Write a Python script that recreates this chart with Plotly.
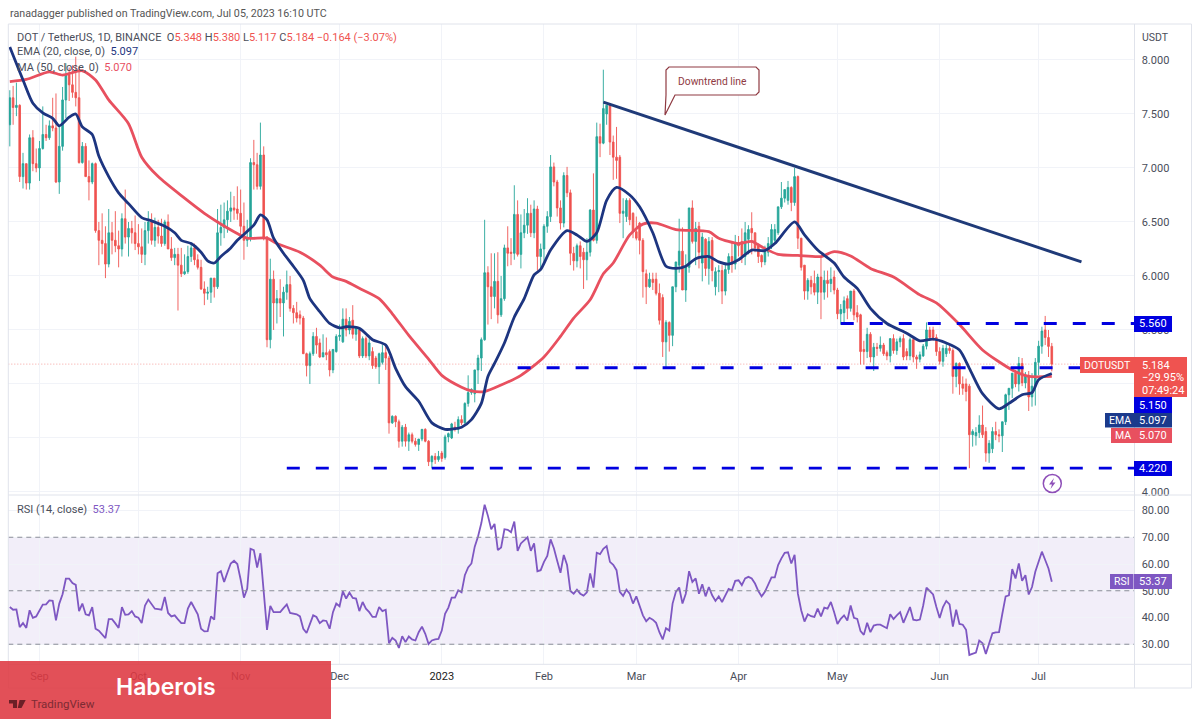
import pandas as pd
import plotly.graph_objects as go
from plotly.subplots import make_subplots

first_day = "2022-08-23"
axis_start = "2022-08-22 13:00"
axis_end = "2023-07-30 02:00"

opens = [
    7.40, 7.65, 7.56, 7.58, 6.92, 7.04, 6.86, 7.28, 7.04, 7.00,
    7.18, 7.31, 7.28, 7.39, 7.37, 6.87, 7.20, 7.63, 7.86, 7.77,
    7.70, 7.65, 7.05, 7.20, 6.92, 6.87, 7.04, 6.42, 6.33, 6.30,
    6.11, 6.40, 6.33, 6.28, 6.25, 6.53, 6.36, 6.44, 6.40, 6.30,
    6.27, 6.20, 6.42, 6.50, 6.33, 6.45, 6.37, 6.30, 6.50, 6.25,
    6.17, 6.20, 6.10, 6.02, 6.04, 6.18, 6.26, 6.15, 6.08, 5.88,
    5.84, 5.85, 5.98, 5.90, 6.40, 6.45, 6.52, 6.60, 6.63, 6.62,
    6.58, 6.46, 6.33, 6.35, 7.05, 7.03, 6.83, 7.12, 6.36, 5.41,
    5.97, 5.75, 5.79, 5.75, 5.85, 5.92, 5.70, 5.66, 5.64, 5.61,
    5.28, 5.17, 5.28, 5.44, 5.38, 5.25, 5.29, 5.30, 5.13, 5.30,
    5.44, 5.39, 5.60, 5.50, 5.59, 5.46, 5.50, 5.26, 5.42, 5.26,
    5.30, 5.24, 5.16, 5.20, 5.29, 5.24, 4.64, 4.70, 4.65, 4.47,
    4.60, 4.47, 4.53, 4.47, 4.44, 4.49, 4.58, 4.47, 4.28, 4.33,
    4.30, 4.36, 4.32, 4.51, 4.50, 4.60, 4.58, 4.67, 4.64, 4.82,
    4.92, 4.91, 5.13, 5.24, 5.41, 6.03, 5.90, 5.81, 5.95, 5.64,
    5.79, 6.26, 6.22, 6.21, 6.57, 6.20, 6.40, 6.47, 6.58, 6.40,
    6.62, 6.18, 6.25, 6.46, 6.55, 7.01, 6.87, 6.63, 6.49, 6.93,
    6.77, 6.21, 6.14, 6.28, 6.22, 6.15, 6.22, 6.61, 6.33, 7.29,
    7.23, 7.50, 7.58, 7.24, 7.10, 7.10, 6.58, 6.55, 6.70, 6.58,
    6.41, 6.49, 6.33, 6.02, 5.90, 5.97, 5.97, 5.84, 5.80, 5.39,
    5.57, 5.45, 5.90, 6.10, 6.23, 5.87, 6.08, 6.63, 6.32, 6.46,
    6.12, 6.34, 6.07, 6.33, 5.90, 6.04, 6.05, 5.86, 6.06, 6.18,
    6.11, 6.30, 6.32, 6.18, 6.34, 6.44, 6.40, 6.28, 6.19, 6.13,
    6.22, 6.28, 6.33, 6.40, 6.64, 6.72, 6.70, 6.82, 6.68, 6.92,
    6.35, 6.10, 5.86, 5.96, 5.93, 5.85, 5.99, 5.85, 5.96, 5.93,
    5.99, 5.87, 5.65, 5.66, 5.79, 5.70, 5.86, 5.66, 5.64, 5.32,
    5.30, 5.46, 5.25, 5.34, 5.33, 5.36, 5.29, 5.26, 5.42, 5.31,
    5.39, 5.42, 5.30, 5.26, 5.41, 5.25, 5.23, 5.26, 5.35, 5.50,
    5.50, 5.43, 5.30, 5.21, 5.28, 5.33, 5.31, 5.07, 5.19, 5.00,
    5.00, 4.98, 4.53, 4.52, 4.55, 4.62, 4.56, 4.36, 4.40, 4.56,
    4.53, 4.52, 4.65, 4.90, 4.96, 5.10, 5.00, 5.19, 5.01, 5.08,
    4.88, 4.98, 5.20, 5.35, 5.50, 5.43, 5.348,
]
highs = [
    7.72, 7.76, 7.79, 7.59, 7.14, 7.04, 7.31, 7.35, 7.18, 7.25,
    7.57, 7.40, 7.44, 7.65, 7.69, 7.40, 7.75, 7.97, 7.93, 7.95,
    8.03, 7.94, 7.24, 7.23, 7.07, 7.05, 7.05, 6.50, 6.58, 6.46,
    6.62, 6.50, 6.60, 6.42, 6.58, 6.80, 6.50, 6.51, 6.56, 6.48,
    6.44, 6.50, 6.60, 6.58, 6.54, 6.52, 6.53, 6.52, 6.57, 6.36,
    6.26, 6.26, 6.26, 6.20, 6.28, 6.30, 6.30, 6.20, 6.15, 5.95,
    5.90, 5.98, 5.98, 6.62, 6.66, 6.68, 6.70, 6.78, 6.74, 6.83,
    6.80, 6.68, 6.52, 7.09, 7.26, 7.14, 7.42, 7.20, 6.37, 6.16,
    6.05, 5.87, 5.97, 5.90, 6.05, 6.00, 5.73, 5.76, 5.68, 5.63,
    5.29, 5.30, 5.48, 5.52, 5.42, 5.46, 5.43, 5.32, 5.32, 5.46,
    5.55, 5.70, 5.70, 5.62, 5.73, 5.53, 5.52, 5.44, 5.44, 5.42,
    5.34, 5.26, 5.29, 5.36, 5.35, 5.26, 4.71, 4.71, 4.67, 4.62,
    4.63, 4.55, 4.55, 4.50, 4.49, 4.58, 4.59, 4.48, 4.34, 4.36,
    4.38, 4.38, 4.53, 4.55, 4.64, 4.65, 4.70, 4.71, 4.83, 5.08,
    4.96, 5.13, 5.27, 5.43, 6.52, 6.09, 6.21, 6.21, 6.22, 6.00,
    6.29, 6.46, 6.35, 6.84, 6.70, 6.57, 6.62, 6.72, 6.66, 6.70,
    6.65, 6.30, 6.48, 6.60, 7.12, 7.05, 6.89, 6.70, 6.96, 7.01,
    6.80, 6.27, 6.30, 6.32, 6.26, 6.35, 6.62, 6.95, 7.42, 7.41,
    7.91, 7.58, 7.59, 7.30, 7.38, 7.12, 6.72, 6.72, 6.72, 6.59,
    6.55, 6.50, 6.35, 6.06, 6.03, 6.03, 6.03, 5.93, 5.83, 5.59,
    5.58, 5.90, 6.13, 6.53, 6.45, 6.20, 6.63, 6.70, 6.50, 6.50,
    6.40, 6.35, 6.36, 6.36, 6.08, 6.10, 6.10, 6.12, 6.21, 6.32,
    6.38, 6.37, 6.44, 6.50, 6.47, 6.59, 6.40, 6.30, 6.20, 6.28,
    6.36, 6.48, 6.48, 6.64, 6.87, 6.80, 6.88, 6.83, 7.00, 6.93,
    6.35, 6.10, 5.98, 6.00, 6.05, 6.02, 6.18, 6.05, 6.05, 6.08,
    6.05, 5.89, 5.74, 5.81, 5.82, 5.86, 5.88, 5.73, 5.65, 5.40,
    5.52, 5.48, 5.38, 5.38, 5.44, 5.38, 5.31, 5.42, 5.46, 5.42,
    5.44, 5.46, 5.33, 5.43, 5.43, 5.27, 5.30, 5.37, 5.57, 5.53,
    5.53, 5.46, 5.34, 5.36, 5.37, 5.36, 5.33, 5.20, 5.20, 5.07,
    5.05, 5.00, 4.58, 4.60, 4.71, 4.80, 4.60, 4.48, 4.60, 4.65,
    4.58, 4.65, 4.91, 4.96, 5.10, 5.13, 5.25, 5.24, 5.11, 5.12,
    5.10, 5.24, 5.40, 5.53, 5.63, 5.50, 5.380,
]
lows = [
    7.20, 7.40, 7.48, 6.87, 6.81, 6.80, 6.80, 6.97, 6.96, 6.88,
    7.17, 7.25, 7.26, 7.34, 6.86, 6.76, 7.16, 7.46, 7.62, 7.65,
    7.57, 7.04, 7.04, 6.92, 6.70, 6.85, 6.40, 6.10, 6.20, 5.98,
    6.08, 6.20, 6.22, 6.08, 6.18, 6.30, 6.18, 6.30, 6.24, 6.20,
    6.12, 6.10, 6.30, 6.29, 6.27, 6.30, 6.27, 6.28, 6.25, 6.14,
    6.10, 5.68, 5.99, 6.01, 6.02, 6.13, 6.10, 6.06, 5.87, 5.73,
    5.78, 5.75, 5.80, 5.88, 6.28, 6.35, 6.40, 6.50, 6.52, 6.52,
    6.38, 6.15, 6.27, 6.32, 6.80, 6.80, 6.80, 6.33, 5.34, 5.33,
    5.50, 5.56, 5.62, 5.44, 5.78, 5.67, 5.56, 5.57, 5.55, 5.28,
    5.07, 5.00, 5.26, 5.28, 5.24, 5.25, 5.22, 5.07, 5.10, 5.29,
    5.40, 5.38, 5.44, 5.46, 5.42, 5.40, 5.24, 5.24, 5.24, 5.22,
    5.14, 5.14, 5.00, 5.18, 5.13, 4.54, 4.63, 4.60, 4.41, 4.42,
    4.42, 4.38, 4.45, 4.42, 4.38, 4.47, 4.46, 4.24, 4.22, 4.26,
    4.28, 4.28, 4.30, 4.46, 4.49, 4.56, 4.54, 4.62, 4.63, 4.79,
    4.90, 4.83, 5.00, 5.12, 5.40, 5.55, 5.60, 5.70, 5.56, 5.62,
    5.77, 6.09, 6.10, 6.15, 6.18, 6.07, 6.35, 6.39, 6.36, 6.35,
    6.05, 6.05, 6.12, 6.40, 6.50, 6.83, 6.55, 6.43, 6.45, 6.73,
    6.10, 6.05, 6.08, 6.07, 5.88, 5.96, 6.18, 6.32, 6.30, 7.10,
    7.22, 7.40, 7.12, 6.89, 6.90, 6.49, 6.35, 6.50, 6.47, 6.35,
    6.33, 6.20, 5.80, 5.74, 5.89, 5.87, 5.82, 5.55, 5.25, 5.15,
    5.30, 5.35, 5.85, 6.03, 5.87, 5.76, 6.03, 6.30, 6.10, 6.07,
    5.95, 6.00, 5.92, 5.95, 5.82, 5.85, 5.74, 5.82, 6.02, 6.03,
    6.06, 6.18, 6.12, 6.10, 6.20, 6.20, 6.22, 6.12, 6.08, 6.10,
    6.18, 6.25, 6.31, 6.38, 6.62, 6.68, 6.66, 6.60, 6.65, 6.25,
    6.05, 5.78, 5.78, 5.83, 5.82, 5.74, 5.60, 5.78, 5.80, 5.85,
    5.83, 5.60, 5.55, 5.56, 5.60, 5.67, 5.59, 5.57, 5.18, 5.18,
    5.24, 5.20, 5.12, 5.26, 5.30, 5.26, 5.22, 5.20, 5.28, 5.27,
    5.34, 5.22, 5.22, 5.22, 5.20, 5.14, 5.20, 5.25, 5.32, 5.40,
    5.40, 5.26, 5.18, 5.16, 5.25, 5.28, 4.91, 4.97, 4.90, 4.90,
    4.84, 4.22, 4.42, 4.43, 4.50, 4.50, 4.28, 4.27, 4.36, 4.48,
    4.46, 4.37, 4.62, 4.76, 4.87, 4.97, 4.93, 4.98, 4.96, 4.75,
    4.79, 4.80, 5.08, 5.28, 5.36, 5.25, 5.117,
]
closes = [
    7.65, 7.56, 7.58, 6.92, 7.04, 6.86, 7.28, 7.04, 7.00, 7.18,
    7.31, 7.28, 7.39, 7.37, 6.87, 7.20, 7.63, 7.86, 7.77, 7.70,
    7.65, 7.05, 7.20, 6.92, 6.87, 7.04, 6.42, 6.33, 6.30, 6.11,
    6.40, 6.33, 6.28, 6.25, 6.53, 6.36, 6.44, 6.40, 6.30, 6.27,
    6.20, 6.42, 6.50, 6.33, 6.45, 6.37, 6.30, 6.50, 6.25, 6.17,
    6.20, 6.10, 6.02, 6.04, 6.18, 6.26, 6.15, 6.08, 5.88, 5.84,
    5.85, 5.98, 5.90, 6.40, 6.45, 6.52, 6.60, 6.63, 6.61, 6.58,
    6.46, 6.33, 6.35, 7.05, 7.03, 6.83, 7.12, 6.36, 5.41, 5.97,
    5.75, 5.79, 5.75, 5.85, 5.92, 5.70, 5.66, 5.61, 5.61, 5.28,
    5.17, 5.28, 5.44, 5.36, 5.25, 5.29, 5.27, 5.13, 5.32, 5.44,
    5.45, 5.60, 5.50, 5.58, 5.46, 5.52, 5.26, 5.42, 5.26, 5.38,
    5.17, 5.16, 5.28, 5.29, 5.24, 4.64, 4.70, 4.65, 4.47, 4.60,
    4.47, 4.53, 4.47, 4.44, 4.49, 4.58, 4.47, 4.28, 4.33, 4.30,
    4.33, 4.31, 4.51, 4.54, 4.63, 4.58, 4.67, 4.64, 4.82, 4.92,
    4.95, 5.13, 5.24, 5.41, 6.03, 5.90, 5.81, 5.95, 5.64, 5.79,
    6.26, 6.21, 6.21, 6.57, 6.20, 6.40, 6.47, 6.58, 6.40, 6.62,
    6.18, 6.25, 6.46, 6.55, 7.01, 6.87, 6.63, 6.49, 6.93, 6.77,
    6.21, 6.14, 6.28, 6.18, 6.15, 6.22, 6.61, 6.33, 7.29, 7.23,
    7.55, 7.58, 7.24, 7.10, 7.07, 6.58, 6.60, 6.70, 6.52, 6.41,
    6.35, 6.33, 6.04, 5.90, 5.97, 5.94, 5.84, 5.59, 5.39, 5.57,
    5.45, 5.90, 6.13, 6.23, 5.87, 6.08, 6.63, 6.32, 6.44, 6.22,
    6.36, 6.07, 6.32, 6.05, 6.04, 6.05, 5.86, 6.06, 6.18, 6.11,
    6.30, 6.28, 6.18, 6.40, 6.43, 6.40, 6.26, 6.18, 6.13, 6.22,
    6.30, 6.43, 6.43, 6.64, 6.72, 6.80, 6.82, 6.68, 6.92, 6.35,
    6.08, 5.86, 5.96, 5.90, 5.85, 5.99, 5.85, 5.96, 5.93, 5.97,
    5.87, 5.65, 5.69, 5.77, 5.70, 5.86, 5.64, 5.62, 5.30, 5.30,
    5.46, 5.25, 5.34, 5.33, 5.36, 5.28, 5.26, 5.42, 5.31, 5.39,
    5.42, 5.25, 5.26, 5.41, 5.25, 5.23, 5.27, 5.35, 5.50, 5.43,
    5.43, 5.30, 5.21, 5.33, 5.33, 5.31, 5.07, 5.19, 5.00, 4.96,
    4.93, 4.53, 4.56, 4.55, 4.62, 4.53, 4.36, 4.45, 4.56, 4.53,
    4.52, 4.65, 4.90, 4.96, 5.10, 5.00, 5.19, 5.01, 5.08, 4.88,
    4.98, 5.20, 5.35, 5.49, 5.43, 5.348, 5.184,
]

ema_days = [
    0, 4, 7, 10, 13, 15, 18, 20, 22, 25, 27, 30, 33, 36, 40, 43, 47, 50, 52, 55,
    58, 60, 62, 64, 67, 69, 74, 76, 78, 80, 83, 86, 89, 91, 94, 97, 100, 102, 106, 110,
    114, 117, 120, 124, 128, 132, 137, 140, 143, 145, 147, 150, 153, 156, 159, 161, 164, 169, 172, 175,
    178, 181, 184, 188, 191, 195, 199, 202, 205, 208, 212, 215, 218, 221, 225, 229, 232, 238, 241, 245,
    250, 253, 257, 261, 266, 272, 276, 280, 284, 288, 291, 295, 300, 303, 307, 310, 312, 316,
]
ema_values = [
    8.12, 7.815, 7.60, 7.51, 7.46, 7.39, 7.47, 7.50, 7.38, 7.31, 7.11, 6.92, 6.77, 6.67, 6.54, 6.51, 6.46, 6.40, 6.33, 6.30,
    6.22, 6.14, 6.12, 6.18, 6.26, 6.33, 6.47, 6.565, 6.52, 6.35, 6.21, 6.09, 5.96, 5.79, 5.67, 5.56, 5.52, 5.53, 5.515, 5.41,
    5.36, 5.145, 4.975, 4.84, 4.64, 4.58, 4.60, 4.67, 4.82, 5.07, 5.19, 5.38, 5.62, 5.79, 6.01, 6.06, 6.24, 6.42, 6.38, 6.32,
    6.40, 6.70, 6.82, 6.75, 6.64, 6.40, 6.09, 6.07, 6.09, 6.16, 6.18, 6.13, 6.11, 6.15, 6.24, 6.235, 6.30, 6.50, 6.38, 6.24,
    6.12, 5.99, 5.885, 5.70, 5.56, 5.47, 5.40, 5.415, 5.38, 5.315, 5.145, 4.91, 4.77, 4.82, 4.90, 4.92, 5.04, 5.097,
]
ma_days = [
    0, 5, 12, 16, 22, 26, 30, 36, 40, 45, 53, 59, 63, 68, 72, 78, 81, 88, 94, 98,
    102, 106, 112, 116, 121, 127, 131, 137, 140, 144, 149, 155, 162, 167, 171, 176, 180, 183, 188, 192,
    196, 202, 212, 215, 221, 225, 228, 233, 239, 246, 250, 255, 261, 268, 276, 281, 288, 295, 304, 309, 316,
]
ma_values = [
    7.80, 7.82, 7.89, 7.86, 7.90, 7.815, 7.63, 7.41, 7.10, 6.92, 6.72, 6.58, 6.50, 6.41, 6.35, 6.35, 6.30, 6.22, 6.10, 5.99,
    5.95, 5.886, 5.79, 5.65, 5.45, 5.23, 5.08, 4.97, 4.935, 4.93, 4.99, 5.08, 5.25, 5.44, 5.61, 5.78, 6.02, 6.12, 6.38, 6.48,
    6.49, 6.43, 6.41, 6.35, 6.30, 6.32, 6.27, 6.20, 6.19, 6.18, 6.225, 6.185, 6.07, 5.99, 5.825, 5.75, 5.55, 5.315, 5.13, 5.07, 5.07,
]
rsi_values = [
    43.9, 42.9, 43.0, 36.4, 37.9, 36.1, 42.7, 39.9, 40.4, 42.5,
    44.8, 44.9, 46.4, 46.2, 38.9, 45.2, 48.7, 54.5, 54.5, 52.9,
    52.2, 42.4, 45.2, 41.2, 40.8, 43.9, 35.8, 35.1, 33.7, 32.3,
    39.4, 39.4, 37.8, 36.1, 43.9, 41.0, 41.2, 42.4, 40.4, 39.9,
    37.9, 44.5, 46.7, 45.0, 43.3, 43.1, 42.9, 47.7, 41.7, 40.4,
    40.8, 39.3, 37.9, 37.9, 43.3, 45.8, 43.5, 41.2, 35.8, 34.8,
    34.9, 40.4, 39.2, 56.5, 57.3, 53.3, 56.8, 60.2, 61.2, 60.0,
    54.2, 47.4, 50.8, 65.7, 65.2, 58.7, 64.0, 50.0, 35.4, 44.3,
    42.0, 42.0, 42.0, 43.5, 44.9, 41.7, 41.5, 41.2, 40.4, 35.8,
    34.2, 37.5, 40.8, 40.2, 37.9, 38.9, 38.7, 35.8, 42.0, 45.2,
    44.2, 49.8, 47.1, 49.3, 47.3, 47.1, 42.4, 45.8, 43.3, 42.0,
    40.2, 40.2, 43.9, 42.4, 42.9, 30.4, 32.4, 31.4, 28.6, 33.0,
    30.8, 32.9, 31.8, 31.4, 34.5, 36.6, 33.9, 30.1, 31.4, 31.8,
    32.0, 35.1, 41.4, 43.7, 47.4, 47.4, 50.2, 49.4, 55.8, 58.7,
    60.2, 66.5, 70.3, 75.3, 82.2, 78.0, 73.0, 75.0, 65.2, 66.2,
    73.0, 72.8, 71.9, 75.9, 64.9, 67.7, 69.0, 70.0, 64.9, 67.7,
    57.3, 57.7, 60.8, 63.0, 69.2, 65.9, 61.2, 56.7, 63.4, 59.6,
    49.9, 48.9, 50.4, 48.9, 48.2, 49.4, 56.5, 51.2, 64.2, 63.7,
    65.7, 66.7, 60.8, 59.7, 57.7, 49.6, 48.1, 50.4, 48.9, 45.2,
    47.9, 44.5, 40.8, 38.6, 39.9, 39.2, 38.0, 34.5, 31.8, 36.0,
    35.1, 45.2, 49.6, 51.2, 45.2, 48.9, 57.3, 53.3, 54.6, 48.9,
    52.4, 47.9, 51.4, 48.3, 46.2, 47.9, 45.8, 48.3, 50.7, 50.2,
    53.7, 53.9, 52.1, 54.6, 55.2, 54.6, 52.7, 49.9, 47.9, 49.6,
    52.1, 55.0, 55.0, 59.6, 62.1, 64.2, 64.4, 60.2, 63.4, 48.9,
    42.7, 38.5, 41.2, 40.5, 40.2, 43.3, 40.4, 43.7, 43.3, 45.8,
    42.0, 37.6, 39.5, 40.8, 38.9, 44.5, 39.9, 39.5, 34.9, 33.5,
    38.0, 34.5, 37.0, 37.3, 37.3, 36.6, 36.0, 41.2, 39.4, 40.8,
    42.0, 38.0, 40.8, 43.9, 39.2, 38.9, 39.2, 44.5, 51.2, 49.8,
    48.6, 43.9, 39.8, 43.9, 46.2, 44.9, 36.6, 42.9, 37.6, 37.3,
    35.4, 26.0, 26.4, 26.9, 31.4, 30.4, 26.4, 30.1, 34.1, 34.4,
    34.5, 41.4, 47.9, 48.3, 58.1, 54.6, 60.2, 53.7, 55.8, 48.6,
    51.4, 57.1, 61.2, 64.6, 61.5, 58.3, 53.37,
]

trend_dates = ["2023-02-19", "2023-07-14"]
trend_prices = [7.61, 6.13]
level_prices = [5.56, 5.15, 4.22]
level_starts = ["2023-05-02", "2023-01-24", "2022-11-15"]
last_price = 5.184

price_ticks = [8, 7.5, 7, 6.5, 6, 5.5, 5, 4.5, 4]
price_labels = ["8.000", "7.500", "7.000", "6.500", "6.000", "5.500", "", "", "4.000"]
rsi_ticks = [80, 70, 60, 50, 40, 30]
month_dates = ["2022-09-01", "2022-10-01", "2022-11-01", "2022-12-01", "2023-01-01", "2023-02-01",
               "2023-03-01", "2023-04-01", "2023-05-01", "2023-06-01", "2023-07-01"]
month_labels = ["Sep", "Oct", "Nov", "Dec", "<span style='color:#222'>2023</span>", "Feb", "Mar", "Apr", "May", "Jun", "Jul"]

GREEN = "#26a69a"
RED = "#ef5350"
NAVY = "#1d3580"
MA_RED = "#e8505f"
BLUE = "#0000e0"
PURPLE = "#7e57c2"
TEXT = "#4a4e5a"
FONT = "Roboto"
W, H = 1200, 720

dates = pd.date_range(first_day, periods=len(closes), freq="D")


def px_x(v):
    return v / W


def px_y(v):
    return 1 - v / H


def px_path(points, close=True):
    cmds = []
    for n, (x, y) in enumerate(points):
        cmds.append(f"{'M' if n == 0 else 'L'} {px_x(x):.5f} {px_y(y):.5f}")
    return " ".join(cmds) + (" Z" if close else "")


fig = make_subplots(rows=2, cols=1, shared_xaxes=True, vertical_spacing=0)

fig.add_trace(go.Candlestick(x=dates, open=opens, high=highs, low=lows, close=closes,
                             increasing=dict(line=dict(color=GREEN, width=0.9), fillcolor=GREEN),
                             decreasing=dict(line=dict(color=RED, width=0.9), fillcolor=RED),
                             whiskerwidth=0, hoverinfo="skip"), row=1, col=1)
fig.add_trace(go.Scatter(x=dates[ma_days], y=ma_values, mode="lines",
                         line=dict(color=MA_RED, width=2.8, shape="spline", smoothing=0.7)), row=1, col=1)
fig.add_trace(go.Scatter(x=dates[ema_days], y=ema_values, mode="lines",
                         line=dict(color=NAVY, width=2.8, shape="spline", smoothing=0.7)), row=1, col=1)
fig.add_trace(go.Scatter(x=trend_dates, y=trend_prices, mode="lines",
                         line=dict(color="#1f3a78", width=3)), row=1, col=1)
for price, start in zip(level_prices, level_starts):
    fig.add_trace(go.Scatter(x=[start, axis_end], y=[price, price], mode="lines",
                             line=dict(color=BLUE, width=2.8, dash="13px,16px")), row=1, col=1)
fig.add_trace(go.Scatter(x=dates, y=rsi_values, mode="lines",
                         line=dict(color=PURPLE, width=1.8)), row=2, col=1)

grid = "#f1f3f8"
fig.update_xaxes(range=[axis_start, axis_end], showgrid=True, gridcolor=grid, gridwidth=1, zeroline=False,
                 tickvals=month_dates, ticktext=month_labels, rangeslider_visible=False, automargin=False,
                 tickfont=dict(family=FONT, size=11, color=TEXT))
fig.update_xaxes(showticklabels=False, ticks="", row=1, col=1)
fig.update_xaxes(ticks="outside", ticklen=1, tickcolor="rgba(0,0,0,0)", row=2, col=1)
fig.update_yaxes(side="right", showgrid=True, gridcolor=grid, gridwidth=1, zeroline=False, ticks="outside",
                 ticklen=4, tickcolor="rgba(0,0,0,0)", automargin=False, tickfont=dict(family=FONT, size=11, color=TEXT))
fig.update_yaxes(range=[3.972, 8.333], tickvals=price_ticks, ticktext=price_labels, row=1, col=1)
fig.update_yaxes(range=[22.5, 85.8], tickvals=rsi_ticks, tickformat=".2f", row=2, col=1)

shapes = []

# rsi band and its dashed levels
shapes.append(dict(type="rect", xref="x2 domain", yref="y2", x0=0, x1=1, y0=30, y1=70,
                   fillcolor="rgba(126,87,194,0.10)", line_width=0, layer="below"))
for level in [70, 50, 30]:
    shapes.append(dict(type="line", xref="x2 domain", yref="y2", x0=0, x1=1, y0=level, y1=level,
                       line=dict(color="#8a8d98", width=1, dash="5px,4px")))
# last price dotted line
shapes.append(dict(type="line", xref="x domain", yref="y", x0=0, x1=1, y0=last_price, y1=last_price,
                   line=dict(color="rgba(239,83,80,0.55)", width=1, dash="1px,2px"), layer="below"))

# outer frame and pane separators
frame = "#e0e3eb"
for x0, y0, x1, y1 in [(8.3, 24, 1191.5, 24), (8.3, 495, 1191.5, 495), (8.3, 664.3, 1191.5, 664.3),
                       (8.3, 688, 1191.5, 688), (8.3, 24, 8.3, 688), (1134.5, 24, 1134.5, 688),
                       (1191.5, 24, 1191.5, 688)]:
    shapes.append(dict(type="line", xref="paper", yref="paper", x0=px_x(x0), x1=px_x(x1), y0=px_y(y0), y1=px_y(y1),
                       line=dict(color=frame, width=1)))

annotations = []


def add_text(x, y, text, size=11, color=TEXT, anchor="left", weight=None, family=FONT):
    annotations.append(dict(xref="paper", yref="paper", x=px_x(x), y=px_y(y), text=text, showarrow=False,
                            xanchor=anchor, yanchor="middle", align=anchor, borderpad=0,
                            font=dict(family=family, size=size, color=color, weight=weight)))


def add_box(x0, x1, y0, y1, color, text, text_color="#ffffff", size=11):
    shapes.append(dict(type="path", xref="paper", yref="paper", fillcolor=color, line_width=0,
                       path=px_path([(x0, y0), (x1, y0), (x1, y1), (x0, y1)])))
    if text:
        add_text((x0 + x1) / 2, (y0 + y1) / 2, text, size=size, color=text_color, anchor="center")


add_box(1134, 1172, 316, 332, BLUE, "5.560")
add_box(1080, 1134, 357, 373, RED, "DOTUSDT", size=10.5)
add_box(1134, 1187, 357, 397, RED, "")
add_text(1141, 365, "5.184", size=11, color="#ffffff")
add_text(1141, 377, "−29.95%", size=11, color="#ffffff")
add_text(1141, 390, "07:49:24", size=11, color="#ffffff")
add_box(1134, 1172, 397, 413, BLUE, "5.150")
add_box(1105, 1134, 413, 427.5, "#1b3a8c", "EMA", size=10.5)
add_box(1134, 1172, 413, 427.5, "#1b3a8c", "5.097")
add_box(1111, 1134, 428, 443, MA_RED, "MA", size=10.5)
add_box(1134, 1172, 428, 443, MA_RED, "5.070")
add_box(1134, 1172, 461, 476, BLUE, "4.220")
add_box(1110, 1133.5, 574, 589, PURPLE, "RSI", size=10.5)
add_box(1134, 1172, 574, 589, PURPLE, "53.37")

red_span = "<span style='color:#ef5350'>{}</span>"
add_text(9, 13, "ranadagger published on TradingView.com, Jul 05, 2023 16:10 UTC", size=10.7, color="#555")
add_text(16, 37, "DOT / TetherUS, 1D, BINANCE  O" + red_span.format("5.348") + " H" + red_span.format("5.380")
         + " L" + red_span.format("5.117") + " C" + red_span.format("5.184") + " " + red_span.format("−0.164 (−3.07%)"))
add_text(16, 52, "EMA (20, close, 0)  <span style='color:#1d3580'>5.097</span>")
add_text(16, 67, "MA (50, close, 0)  <span style='color:#e8505f'>5.070</span>")
add_text(16, 509, "RSI (14, close)  <span style='color:#7e57c2'>53.37</span>")
add_text(1141, 37, "USDT", size=10.5)

# downtrend callout
callout = "#8f3a42"
shapes.append(dict(type="path", xref="paper", yref="paper", fillcolor="#ffffff", line=dict(color=callout, width=1.2),
                   path=px_path([(669, 67), (756, 67), (759, 70), (759, 92), (756, 95), (675, 95), (665, 115),
                                 (666, 95), (666, 70)])))
add_text(712, 81, "Downtrend line", size=10.3, color=callout, anchor="center")

# flash icon under the last candle
shapes.append(dict(type="circle", xref="paper", yref="paper", x0=px_x(1043.3), x1=px_x(1061.3), y0=px_y(474.5),
                   y1=px_y(492.5), fillcolor="#ffffff", line=dict(color="#8e4fb8", width=1.5)))
shapes.append(dict(type="path", xref="paper", yref="paper", fillcolor="#8e4fb8", line_width=0,
                   path=px_path([(1054, 478), (1049, 484.5), (1052, 484.5), (1050.5, 489), (1055.5, 482.5),
                                 (1052.5, 482.5)])))

# site banner over the bottom left corner
shapes.append(dict(type="rect", xref="paper", yref="paper", x0=0, x1=px_x(331), y0=px_y(719), y1=px_y(661),
                   fillcolor="rgba(222,56,65,0.88)", line_width=0, layer="above"))
add_text(166, 687, "Haberois", size=23, color="#ffffff", anchor="center", weight=600, family="Inter")
add_text(30, 704, "TradingView", size=11.5, color="#7d2b33")
shapes.append(dict(type="path", xref="paper", yref="paper", fillcolor="#6b2027", line_width=0,
                   path=px_path([(9, 700), (17, 700), (17, 708), (13, 708), (13, 703.5), (9, 703.5)])))
shapes.append(dict(type="path", xref="paper", yref="paper", fillcolor="#6b2027", line_width=0,
                   path=px_path([(19.5, 700), (25.7, 700), (21.5, 708), (17.8, 708)])))

fig.update_layout(width=W, height=H, margin=dict(l=0, r=0, t=0, b=0), paper_bgcolor="#ffffff", plot_bgcolor="#ffffff",
                  showlegend=False, shapes=shapes, annotations=annotations, hovermode=False,
                  xaxis=dict(domain=[px_x(8.3), px_x(1134.5)]), xaxis2=dict(domain=[px_x(8.3), px_x(1134.5)]),
                  yaxis=dict(domain=[px_y(495), px_y(24)]), yaxis2=dict(domain=[px_y(664.3), px_y(495)]))

fig.write_html("out.html", config=dict(displayModeBar=False, responsive=False),
               post_script="document.body.style.margin='0';")
